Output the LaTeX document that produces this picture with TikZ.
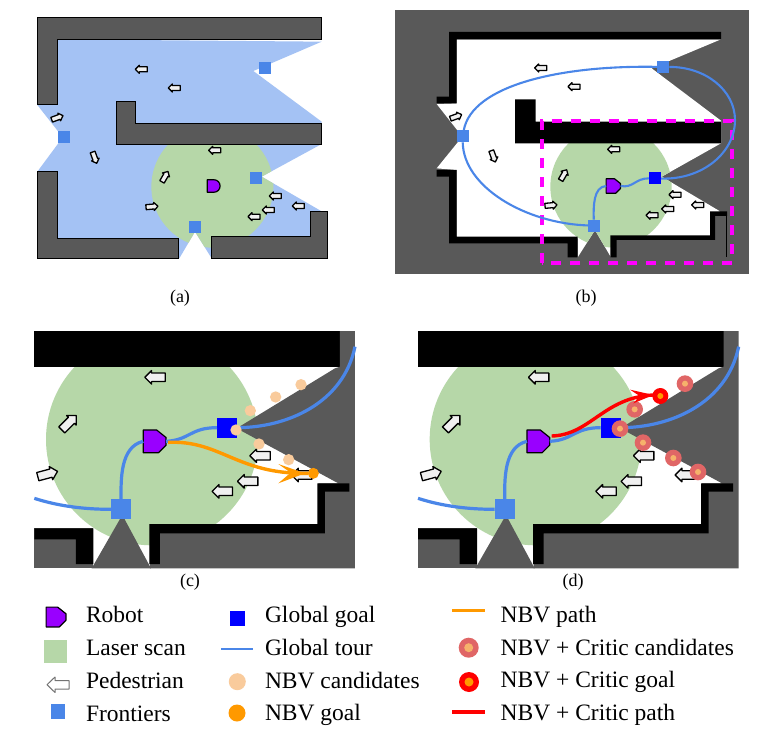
\documentclass[tikz,border=0pt]{standalone}
\usepackage{fontspec}
\setmainfont{Liberation Serif}
\definecolor{wallgray}{HTML}{595959}
\definecolor{seen}{HTML}{A4C2F4}
\definecolor{scan}{HTML}{B6D7A8}
\definecolor{front}{HTML}{4A86E8}
\definecolor{botfill}{HTML}{9900FF}
\definecolor{goalblue}{HTML}{0000FF}
\definecolor{peach}{HTML}{F9CB9C}
\definecolor{nbv}{HTML}{FF9900}
\definecolor{critic}{HTML}{E06666}
\definecolor{kernel}{HTML}{F6B26B}
\definecolor{pedfill}{HTML}{F0F0F0}
\definecolor{fencecol}{HTML}{FF00FF}
\tikzset{
  every node/.style={inner sep=0pt,outer sep=0pt},
  wallA/.style={fill=wallgray,draw=black,line width=0.8pt},
  wallsolid/.style={fill=black},
  pedshape/.style={fill=pedfill,draw=black,line width=1.3pt,line join=round},
  frontier/.style={fill=front,minimum size=#1},
  globalgoal/.style={fill=goalblue,minimum size=#1},
  tour/.style={draw=front,line width=#1},
  bot/.style={fill=botfill,draw=black,line width=1.2pt,line join=round},
  botanchor/.style={minimum size=#1},
  fence/.style={draw=fencecol,line width=3.8pt,dash pattern=on 10pt off 9pt},
  captxt/.style={font=\fontsize{18}{20}\selectfont},
  legtxt/.style={anchor=base west,font=\fontsize{23.5}{26}\selectfont},
  cand/.style={fill=peach},
  critcand/.style={fill=critic},
  critcore/.style={fill=kernel},
}
% pedestrian marker: x, y, heading, scale
\newcommand\pedmark[4]{\draw[pedshape,shift={(#1,#2)},rotate=#3,x=#4pt,y=#4pt]
  (6,0)--(2,4)--(2,2.5)--(-6,2.5)--(-6,-2.5)--(2,-2.5)--(2,-4)--cycle;}
% pentagon robot: node name, x, y, scale
\newcommand\pentabot[4]{\draw[bot,shift={(#2,#3)},x=#4pt,y=#4pt]
  (-6,-6)--(2,-6)--(6,-2)--(6,2)--(1,6)--(-6,6)--cycle;
  \node[botanchor=12pt*#4] (#1) at (#2,#3) {};}
% close-up of the scan area, shared by two panels
\newcommand\closeup[2]{%
\begin{scope}[shift={(#2,320)},x=0.33333pt,y=-0.33333pt]
  \fill[scan] (396,358) circle[radius=318];
  \fill[wallsolid] (43,33) rectangle (960,140);
  \fill[wallgray] (960,33)--(1005,33)--(1005,745)--(390,745)--(390,612)--(895,612)--(895,490)--(955,490)--(650,325)--(945,145)--(960,140)--cycle;
  \fill[wallgray] (43,625)--(220,625)--(220,745)--(43,745)--cycle;
  \fill[wallgray] (307,585)--(393,745)--(215,745)--cycle;
  \fill[wallsolid] (388,732)--(388,612)--(892,612)--(892,490)--(988,490)--(988,515)--(915,515)--(915,640)--(420,640)--(420,732)--cycle;
  \fill[wallsolid] (43,625)--(220,625)--(220,732)--(168,732)--(168,658)--(43,658)--cycle;
  \pedmark{405}{172}{180}{1.7}
  \pedmark{147}{308}{45}{1.7}
  \pedmark{83}{462}{15}{1.7}
  \pedmark{720}{407}{180}{1.7}
  \pedmark{683}{484}{180}{1.7}
  \pedmark{607}{514}{180}{1.7}
  \pedmark{845}{465}{180}{1.7}
  \node[frontier=20pt] (#1front) at (303,568) {};
  \node[globalgoal=20pt] (#1goal) at (621,323) {};
  \pentabot{#1bot}{404}{364}{1.9}
  \coordinate (#1west) at (43,535);
  \coordinate (#1east) at (1005,80);
  \draw[tour=3.2pt] (#1west) .. controls (120,560) and (200,568) .. (#1front);
  \draw[tour=3.2pt] (#1front) .. controls (303,480) and (300,380) .. (#1bot.west);
  \draw[tour=3.2pt] (#1bot.east) .. controls (510,360) and (510,323) .. (#1goal);
  \draw[tour=3.2pt] (#1goal) .. controls (800,323) and (970,250) .. (#1east);
\end{scope}}
\begin{document}
\begin{tikzpicture}[x=1pt,y=-1pt]
\useasboundingbox (0,0) rectangle (774,741);
\fill[white] (0,0) rectangle (774,741);

% ---- panel (a): explored map ----
\begin{scope}[shift={(20,0)},x=0.33333pt,y=-0.33333pt]
  \path[fill=seen] (112,118)--(905,125)--(700,213)--(905,365)--(905,432)--(725,530)--(905,634)--(921,700)--(575,775)--(525,695)--(478,775)--(52,775)--(52,515)--(115,430)--(115,395)--(52,315)--(52,118)--cycle;
  \begin{scope}
    \clip (112,118)--(905,125)--(700,213)--(905,365)--(905,432)--(725,530)--(905,634)--(921,700)--(575,775)--(525,695)--(478,775)--(52,775)--(52,515)--cycle;
    \fill[scan] (577,560) circle[radius=183];
  \end{scope}
  \draw[wallA] (52,52)--(905,52)--(905,118)--(112,118)--(112,312)--(52,312)--cycle;
  \draw[wallA] (290,304)--(347,304)--(347,370)--(905,370)--(905,432)--(290,432)--cycle;
  \draw[wallA] (52,515)--(112,515)--(112,716)--(475,716)--(475,775)--(52,775)--cycle;
  \draw[wallA] (574,709)--(872,709)--(872,634)--(921,634)--(921,775)--(574,775)--cycle;
  \foreach \px/\py/\ph in {364/208/180,463/264/180,112/353/20,224/473/-70,584/451/180,435/530/60,396/620/5,766/588/180,745/630/180,702/650/180,835/618/180}
    {\pedmark{\px}{\py}{\ph}{1}}
  \node[frontier=12pt] (af1) at (735,205) {};
  \node[frontier=12pt] (af2) at (131,412) {};
  \node[frontier=12pt] (af3) at (708,534) {};
  \node[frontier=12pt] (af4) at (524,681) {};
  \draw[bot] (562,539)--(580,539) .. controls (607,539) and (607,577) .. (580,577)--(562,577)--cycle;
\end{scope}
\node[captxt] (capa) at (180,298) {(a)};

% ---- panel (b): tour over the occupancy map ----
\begin{scope}[shift={(385,0)},x=0.33333pt,y=-0.33333pt]
  \fill[wallgray] (30,30) rectangle (1092,822);
  \begin{scope}
    \clip (215,118)--(1008,118)--(800,205)--(1008,362)--(1008,430)--(830,530)--(1005,634)--(985,640)--(985,710)--(678,710)--(678,772)--(630,690)--(578,772)--(578,715)--(215,715)--(215,510)--(155,505)--(232,410)--(155,312)--(215,310)--cycle;
    \fill[white] (30,30) rectangle (1092,822);
    \fill[scan] (678,560) circle[radius=182];
  \end{scope}
  \fill[wallsolid] (192,96)--(1008,96)--(1008,118)--(215,118)--(215,310)--(155,310)--(155,290)--(192,290)--cycle;
  \fill[wallsolid] (390,298)--(452,298)--(452,365)--(1008,365)--(1008,430)--(390,430)--cycle;
  \fill[wallsolid] (155,510)--(215,510)--(215,710)--(578,710)--(578,772)--(548,772)--(548,730)--(192,730)--(192,530)--(155,530)--cycle;
  \fill[wallsolid] (676,772)--(676,706)--(975,706)--(975,634)--(1026,634)--(1026,648)--(990,648)--(990,720)--(695,720)--(695,772)--cycle;
  \fill[black] (1022,640) rectangle (1026,772);
  \foreach \px/\py/\ph in {467/204/180,567/260/180,213/350/20,325/469/-70,686/448/180,536/525/60,498/616/5,870/584/180,848/627/180,801/646/180,938/615/180}
    {\pedmark{\px}{\py}{\ph}{1}}
  \draw[fence] (470,788)--(470,362)--(1042,362)--(1042,788)--cycle;
  \node[frontier=12pt] (bf1) at (835,201) {};
  \node[frontier=12pt] (bf2) at (233,409) {};
  \node[frontier=12pt] (bf3) at (627,677) {};
  \node[globalgoal=12pt] (bgoal) at (810,535) {};
  \pentabot{bbot}{685}{558}{1.2}
  \draw[tour=2.1pt] (bf1) .. controls (530,195) and (261,255) .. (bf2);
  \draw[tour=2.1pt] (bf2) .. controls (235,560) and (420,670) .. (bf3);
  \draw[tour=2.1pt] (bf3) .. controls (625,620) and (625,560) .. (bbot.west);
  \draw[tour=2.1pt] (bbot.east) .. controls (745,565) and (750,535) .. (bgoal);
  \draw[tour=2.1pt] (bgoal) .. controls (950,540) and (1050,460) .. (1050,360) .. controls (1050,270) and (960,200) .. (bf1);
\end{scope}
\node[captxt] (capb) at (586,298) {(b)};

% ---- panel (c): next-best-view candidates ----
\closeup{c}{20}
\begin{scope}[shift={(20,320)},x=0.33333pt,y=-0.33333pt]
  \foreach \px/\py in {843/194,767/231,691/272,648/330,717/372,806/419}
    {\fill[cand] (\px,\py) circle[radius=17];}
  \node[fill=nbv,circle,minimum size=11pt] (cnbv) at (880,460) {};
  \coordinate (cstart) at (444,367);
  \coordinate (ctip) at (855,460);
  \draw[nbv,line width=3.4pt] (cstart) .. controls (600,360) and (650,461) .. (ctip)--(cnbv);
  % swept-back arrow head on the path
  \fill[nbv] (ctip)--(775,432)--(812,458)--(775,490)--cycle;
\end{scope}
\node[captxt] (capc) at (190,582) {(c)};

% ---- panel (d): critic-ranked candidates ----
\closeup{d}{403.67}
\begin{scope}[shift={(403.67,320)},x=0.33333pt,y=-0.33333pt]
  \foreach \px/\py in {844/191,693/268,649/326,718/368,809/414,883/456}
    {\fill[critcand] (\px,\py) circle[radius=25];
     \fill[critcore] (\px,\py) circle[radius=9];}
  \node[fill=red,circle,minimum size=16pt] (dcrit) at (770,228) {};
  \fill[nbv] (dcrit) circle[radius=9];
  \coordinate (dstart) at (444,348);
  \coordinate (dtip) at (749,225);
  \draw[red,line width=3.4pt] (dstart) .. controls (560,345) and (600,232) .. (dtip);
  % swept-back arrow head on the path
  \fill[red] (dtip)--(679,209)--(708,228)--(689,250)--cycle;
\end{scope}
\node[captxt] (capd) at (573,582) {(d)};

% ---- legend ----
\pentabot{lbot}{56}{617}{1.65}
\fill[scan] (44.3,640) rectangle (67.3,662.7);
\draw[draw=black!55,fill=white,line width=1pt,line join=round] (47,684.7)--(55,677)--(55,680.5)--(69,680.5)--(69,689)--(55,689)--(55,692.5)--cycle;
\node[frontier=14.5pt] (lfront) at (58,711.7) {};
\node[globalgoal=15pt] (lgoal) at (237.5,618.7) {};
\coordinate (tl) at (221,649); \coordinate (tr) at (252.7,649);
\draw[tour=2pt] (tl)--(tr);
\node[fill=peach,circle,minimum size=17pt] (lcand) at (237.3,681.7) {};
\node[fill=nbv,circle,minimum size=17pt] (lnbv) at (237,713) {};
\coordinate (ol) at (452,610.7); \coordinate (or) at (485,610.7);
\draw[nbv,line width=3.4pt] (ol)--(or);
\node[fill=critic,circle,minimum size=20pt] (lcc) at (468.7,647.7) {};
\fill[kernel] (lcc) circle[radius=4.5];
\node[fill=red,circle,minimum size=20pt] (lcg) at (469,682) {};
\fill[nbv] (lcg) circle[radius=4.5];
\coordinate (rl) at (452,712); \coordinate (rr) at (485,712);
\draw[red,line width=3.4pt] (rl)--(rr);

\node[legtxt] (t1) at (86,622) {Robot};
\node[legtxt] (t2) at (86,655.5) {Laser scan};
\node[legtxt] (t3) at (86,688) {Pedestrian};
\node[legtxt] (t4) at (86,721) {Frontiers};
\node[legtxt] (t5) at (265,622) {Global goal};
\node[legtxt] (t6) at (265,655) {Global tour};
\node[legtxt] (t7) at (265,688) {NBV candidates};
\node[legtxt] (t8) at (265,720) {NBV goal};
\node[legtxt] (t9) at (500.7,622.5) {NBV path};
\node[legtxt] (t10) at (500.7,655) {NBV + Critic candidates};
\node[legtxt] (t11) at (500.7,687.5) {NBV + Critic goal};
\node[legtxt] (t12) at (500.7,720) {NBV + Critic path};
\end{tikzpicture}
\end{document}
